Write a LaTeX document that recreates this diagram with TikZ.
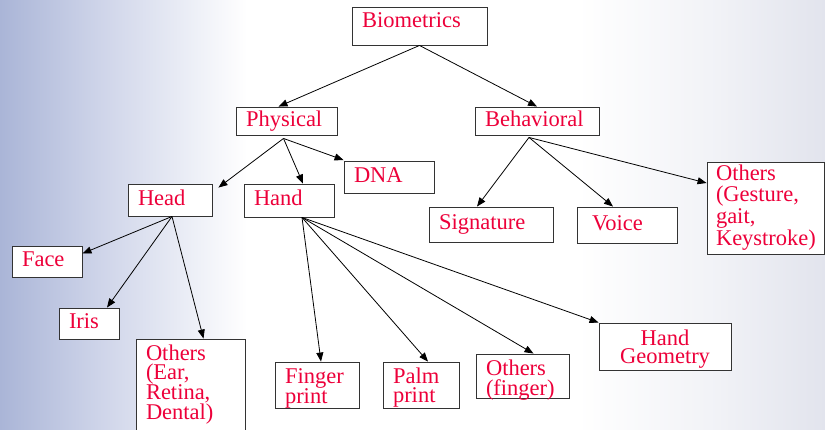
\documentclass[tikz,border=0pt]{standalone}
\usepackage{fontspec}
\setmainfont{Liberation Serif}
\usetikzlibrary{arrows.meta}

\definecolor{bioRed}{RGB}{237,0,58}
\definecolor{bgLeft}{RGB}{170,181,215}
\definecolor{bgMid}{RGB}{206,212,233}
\definecolor{bgRight}{RGB}{226,228,237}
% stops between 25bp and 75bp span the whole rectangle
\pgfdeclarehorizontalshading{bgShade}{100bp}{color(0bp)=(bgLeft); color(25bp)=(bgLeft); color(31bp)=(bgMid); color(40bp)=(white); color(60bp)=(white); color(68bp)=(bgRight!45!white); color(75bp)=(bgRight); color(100bp)=(bgRight)}

\tikzset{
	box/.style={draw=black!80, line width=0.9pt, fill=white, text=bioRed,
		inner xsep=10pt, inner ysep=1pt, align=left, text height=15pt,
		font=\fontsize{22.5}{19}\selectfont},
	single/.style={box, text depth=5pt},
	link/.style={-{Triangle[length=9pt,width=7pt]}, line width=0.8pt},
}

\begin{document}
\begin{tikzpicture}[x=1pt, y=-1pt]
		\useasboundingbox (0,0) rectangle (825,429);
		\begin{scope}
			\clip (0,0) rectangle (825,429);
			\shade[shading=bgShade] (0,0) rectangle (825,429);

			% top levels
			\node[single, text width=115pt, minimum height=38pt, text depth=13pt] (bio) at (419.5,26) {Biometrics};
			\node[single, text width=81pt, minimum height=28pt] (phys) at (286.5,121) {Physical};
			\node[single, text width=104pt, minimum height=28pt] (behav) at (537,121) {Behavioral};

			% physical
			\node[single, text width=64pt, minimum height=32pt] (head) at (170,200) {Head};
			\node[single, text width=70pt, minimum height=33pt] (hand) at (289,200.5) {Hand};
			\node[single, text width=70pt, minimum height=32pt] (dna) at (389,177.5) {DNA};

			% behavioral
			\node[single, text width=104pt, minimum height=35pt] (sig) at (491,224.5) {Signature};
			\node[single, text width=80pt, minimum height=36pt] (voice) at (627,225) {\hspace*{5pt}Voice};
			\node[box, text width=99pt, inner xsep=9pt, minimum height=92pt, text depth=71pt,
				font=\fontsize{22.5}{21.7}\selectfont] (othB) at (765.5,208) {Others\\(Gesture,\\gait,\\Keystroke)};

			% head
			\node[single, text width=50pt, minimum height=31pt] (face) at (47,261.5) {Face};
			\node[single, text width=40pt, minimum height=31pt] (iris) at (89,323.5) {Iris};
			\node[box, text width=89pt, minimum height=96pt, text depth=69pt] (othH) at (190.5,387) {Others\\(Ear,\\Retina,\\Dental)};

			% hand
			\node[box, text width=64pt, minimum height=46pt, text depth=19pt] (finger) at (317,385) {Finger\\print};
			\node[box, text width=56pt, minimum height=46pt, text depth=19pt] (palm) at (421,385) {Palm\\print};
			\node[box, text width=73pt, minimum height=44pt, text depth=17pt,
				font=\fontsize{22.5}{20}\selectfont] (othF) at (522.5,376) {Others\\(finger)};
			\node[box, text width=112pt, minimum height=47pt, text depth=18pt, align=center,
				font=\fontsize{22.5}{18}\selectfont] (geom) at (665,346.5) {Hand\\Geometry};

			% arrows
			\draw[link] (bio.south) -- ([xshift=-8pt]phys.north);
			\draw[link] (bio.south) -- (behav.north);

			\draw[link] ([xshift=-3pt,yshift=-3pt]phys.south) -- ([xshift=6pt,yshift=-4pt]head.north east);
			\draw[link] ([xshift=-3pt,yshift=-3pt]phys.south) -- ([xshift=14pt]hand.north);
			\draw[link] ([xshift=-3pt,yshift=-3pt]phys.south) -- ([yshift=1pt]dna.north west);

			\draw[link] ([xshift=-8pt,yshift=-2pt]behav.south) -- ([xshift=-14pt]sig.north);
			\draw[link] ([xshift=-8pt,yshift=-2pt]behav.south) -- ([xshift=-14pt]voice.north);
			\draw[link] ([xshift=-8pt,yshift=-2pt]behav.south) -- ([yshift=25pt]othB.west);

			\draw[link] ([xshift=2pt]head.south) -- ([yshift=8pt]face.east);
			\draw[link] ([xshift=2pt]head.south) -- ([xshift=18pt]iris.north);
			\draw[link] ([xshift=2pt]head.south) -- ([xshift=13pt]othH.north);

			\draw[link] ([xshift=13pt]hand.south) -- ([xshift=4pt]finger.north);
			\draw[link] ([xshift=13pt]hand.south) -- ([xshift=7pt]palm.north);
			\draw[link] ([xshift=13pt]hand.south) -- ([xshift=11pt]othF.north);
			\draw[link] ([xshift=13pt]hand.south) -- (geom.north west);
		\end{scope}
\end{tikzpicture}
\end{document}
